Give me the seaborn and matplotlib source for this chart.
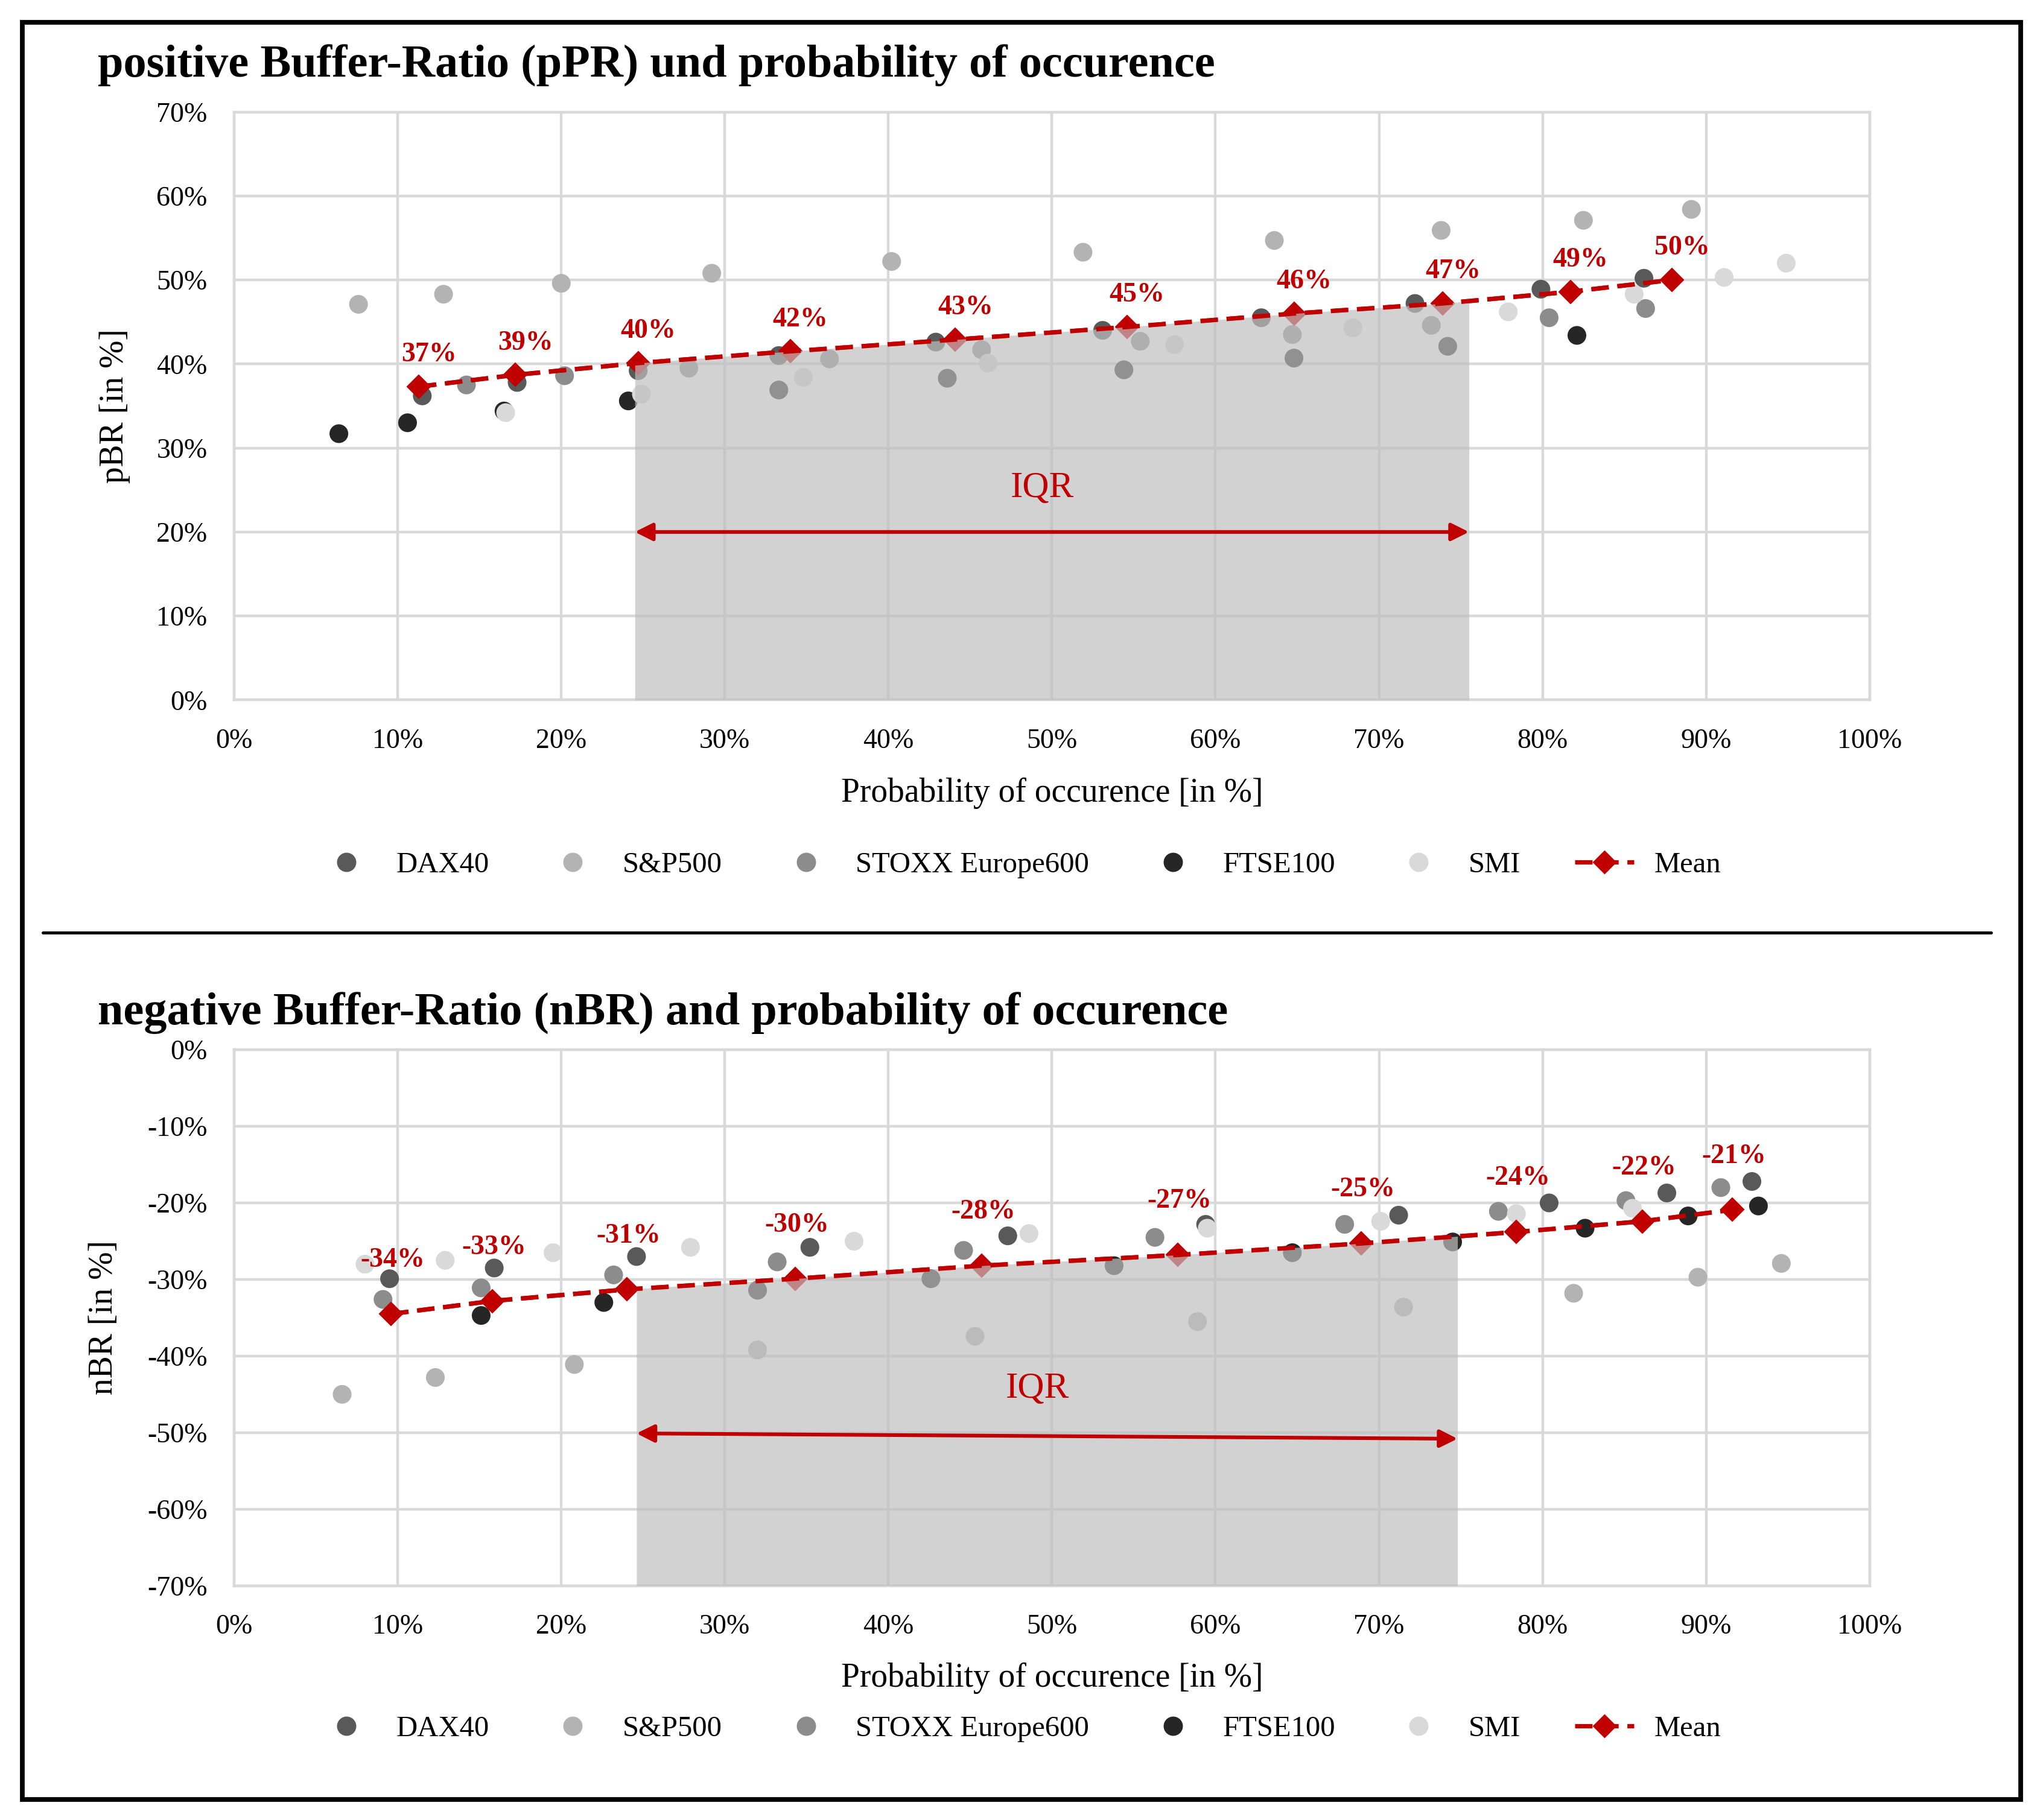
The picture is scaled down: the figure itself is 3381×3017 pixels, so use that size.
import numpy as np
import pandas as pd
import matplotlib
matplotlib.use("Agg")
import matplotlib.pyplot as plt
import seaborn as sns
from matplotlib.lines import Line2D
from matplotlib.patches import Rectangle

# ---- data: positive buffer ratio (pBR) vs probability of occurence, in % ----
indices = ["DAX40", "S&P500", "STOXX Europe600", "FTSE100", "SMI"]
colors = ["#595959", "#b3b3b3", "#8c8c8c", "#262626", "#d9d9d9"]

pos_x_dax = [11.5, 17.3, 24.7, 33.3, 42.9, 53.1, 62.8, 72.2, 79.9, 86.2]
pos_y_dax = [36.2, 37.8, 39.2, 41.0, 42.6, 44.0, 45.5, 47.2, 48.9, 50.2]
pos_x_sp = [7.6, 12.8, 20.0, 29.2, 40.2, 51.9, 63.6, 73.8, 82.5, 89.1]
pos_y_sp = [47.1, 48.3, 49.6, 50.8, 52.2, 53.3, 54.7, 55.9, 57.1, 58.4]
pos_x_stoxx = [14.2, 20.2, 27.8, 36.4, 45.7, 55.4, 64.7, 73.2, 80.4, 86.3]
pos_y_stoxx = [37.5, 38.6, 39.5, 40.6, 41.7, 42.7, 43.5, 44.6, 45.5, 46.6]
pos_x_ftse = [6.4, 10.6, 16.5, 24.1, 33.3, 43.6, 54.4, 64.8, 74.2, 82.1]
pos_y_ftse = [31.7, 33.0, 34.4, 35.6, 36.9, 38.3, 39.3, 40.7, 42.1, 43.4]
pos_x_smi = [16.6, 24.9, 34.8, 46.1, 57.5, 68.4, 77.9, 85.6, 91.1, 94.9]
pos_y_smi = [34.2, 36.4, 38.4, 40.1, 42.3, 44.3, 46.2, 48.3, 50.3, 52.0]

pos_mean_x = [11.3, 17.2, 24.7, 34.0, 44.1, 54.6, 64.8, 73.9, 81.7, 87.9]
pos_mean_y = [37.3, 38.7, 40.1, 41.5, 42.9, 44.4, 46.0, 47.2, 48.6, 50.0]
pos_mean_labels = ["37%", "39%", "40%", "42%", "43%", "45%", "46%", "47%", "49%", "50%"]
pos_iqr = [24.5, 75.5]

# ---- data: negative buffer ratio (nBR) ----
neg_x_dax = [9.5, 15.9, 24.6, 35.2, 47.3, 59.4, 71.2, 80.4, 87.6, 92.8]
neg_y_dax = [-29.9, -28.5, -27.0, -25.8, -24.3, -22.8, -21.6, -20.0, -18.7, -17.2]
neg_x_sp = [6.6, 12.3, 20.8, 32.0, 45.3, 58.9, 71.5, 81.9, 89.5, 94.6]
neg_y_sp = [-45.0, -42.8, -41.1, -39.2, -37.4, -35.5, -33.6, -31.8, -29.7, -27.9]
neg_x_stoxx = [9.1, 15.1, 23.2, 33.2, 44.6, 56.3, 67.9, 77.3, 85.1, 90.9]
neg_y_stoxx = [-32.6, -31.1, -29.4, -27.7, -26.2, -24.5, -22.8, -21.1, -19.7, -18.0]
neg_x_ftse = [15.1, 22.6, 32.0, 42.6, 53.8, 64.7, 74.5, 82.6, 88.9, 93.2]
neg_y_ftse = [-34.7, -33.0, -31.4, -29.9, -28.2, -26.5, -25.1, -23.3, -21.7, -20.4]
neg_x_smi = [8.0, 12.9, 19.5, 27.9, 37.9, 48.6, 59.5, 70.1, 78.4, 85.5]
neg_y_smi = [-28.0, -27.5, -26.5, -25.8, -25.0, -24.0, -23.3, -22.4, -21.4, -20.7]

neg_mean_x = [9.6, 15.8, 24.0, 34.3, 45.7, 57.7, 68.9, 78.4, 86.1, 91.6]
neg_mean_y = [-34.5, -32.8, -31.3, -29.9, -28.2, -26.8, -25.3, -23.8, -22.4, -20.9]
neg_mean_labels = ["-34%", "-33%", "-31%", "-30%", "-28%", "-27%", "-25%", "-24%", "-22%", "-21%"]
neg_iqr = [24.6, 74.8]

RED = "#c00000"


def make_df(xs, ys):
    frames = []
    for name, x, y in zip(indices, xs, ys):
        frames.append(pd.DataFrame({"x": x, "y": y, "index": name}))
    return pd.concat(frames, ignore_index=True)


pos_df = make_df([pos_x_dax, pos_x_sp, pos_x_stoxx, pos_x_ftse, pos_x_smi],
                 [pos_y_dax, pos_y_sp, pos_y_stoxx, pos_y_ftse, pos_y_smi])
neg_df = make_df([neg_x_dax, neg_x_sp, neg_x_stoxx, neg_x_ftse, neg_x_smi],
                 [neg_y_dax, neg_y_sp, neg_y_stoxx, neg_y_ftse, neg_y_smi])

sns.set_theme(style="whitegrid")
plt.rcParams['font.family'] = ['Liberation Serif', 'DejaVu Serif']
plt.rcParams['text.color'] = 'black'
plt.rcParams['axes.labelcolor'] = 'black'

fig = plt.figure(figsize=(3381 / 200, 3017 / 200), dpi=200)
ax1 = fig.add_axes([0.1148, 0.6154, 0.8017, 0.3231])
ax2 = fig.add_axes([0.1148, 0.1287, 0.8017, 0.2945])


def draw_panel(ax, df, mx, my, labels, iqr, ylim, yticks, ylabel, label_dx, label_dy,
               arrow_y, iqr_text_y):
    sns.scatterplot(data=df, x="x", y="y", hue="index", hue_order=indices,
                    palette=dict(zip(indices, colors)), s=125, edgecolor="none",
                    legend=False, ax=ax, zorder=3)
    # mean line with diamonds (below the IQR shading)
    sns.lineplot(x=mx, y=my, ax=ax, color=RED, lw=2.6, marker="D", markersize=9.5,
                 markeredgecolor=RED, zorder=4, sort=False)
    ax.lines[-1].set_dashes((4, 2))
    # IQR shading
    xs = np.linspace(iqr[0], iqr[1], 60)
    top = np.interp(xs, mx, my)
    ax.fill_between(xs, ylim[0], top, color="#bfbfbf", alpha=0.7, lw=0, zorder=5)
    # line again on top of shading
    sns.lineplot(x=mx, y=my, ax=ax, color=RED, lw=2.6, zorder=6, sort=False)
    ax.lines[-1].set_dashes((4, 2))

    for x, y, t in zip(mx, my, labels):
        ax.annotate(t, (x, y), xytext=(label_dx, label_dy), textcoords="offset points",
                    ha="center", va="center", color=RED, fontsize=16.5,
                    fontweight="bold", zorder=7)

    ax.annotate("", xy=(iqr[1], arrow_y[1]), xytext=(iqr[0], arrow_y[0]),
                arrowprops=dict(arrowstyle="<|-|>", color=RED, lw=2.2,
                                mutation_scale=22, shrinkA=0, shrinkB=0), zorder=7)
    ax.text(np.mean(iqr) - 0.6, iqr_text_y, "IQR", color=RED, fontsize=22,
            ha="center", va="center", zorder=7)

    ax.set_xlim(0, 100)
    ax.set_ylim(*ylim)
    ax.set_xticks(np.arange(0, 101, 10))
    ax.set_xticklabels([f"{v}%" for v in range(0, 101, 10)])
    ax.set_yticks(yticks)
    ax.set_yticklabels([f"{v}%" for v in yticks])
    ax.grid(True, color="#d9d9d9", lw=1.6)
    ax.set_axisbelow(True)
    for sp in ax.spines.values():
        sp.set_color("#d9d9d9")
        sp.set_linewidth(1.6)
    ax.tick_params(axis="both", length=0, labelsize=16.5, colors="black")
    ax.tick_params(axis="x", pad=17)
    ax.tick_params(axis="y", pad=16)
    ax.set_xlabel("Probability of occurence [in %]", fontsize=20, color="black")
    ax.set_ylabel(ylabel, fontsize=20, color="black")


draw_panel(ax1, pos_df, pos_mean_x, pos_mean_y, pos_mean_labels, pos_iqr,
           (0, 70), list(range(0, 71, 10)), "pBR [in %]", 6, 19, (20, 20), 25.2)
draw_panel(ax2, neg_df, neg_mean_x, neg_mean_y, neg_mean_labels, neg_iqr,
           (-70, 0), list(range(-70, 1, 10)), "nBR [in %]", 1, 32, (-50.1, -50.8), -44.3)

ax1.xaxis.set_label_coords(0.5, -0.159)
ax1.xaxis.label.set_va("center")
ax2.xaxis.set_label_coords(0.5, -0.172)
ax2.xaxis.label.set_va("center")
ax1.yaxis.set_label_coords(-0.0636, 0.5)
ax2.yaxis.set_label_coords(-0.070, 0.5)

# titles
fig.text(0.0478, 0.964, "positive Buffer-Ratio (pPR) und probability of occurence",
         fontsize=27.5, fontweight="bold", ha="left", va="center", color="black")
fig.text(0.0478, 0.443, "negative Buffer-Ratio (nBR) and probability of occurence",
         fontsize=27.5, fontweight="bold", ha="left", va="center", color="black")

# legends
handles = [Line2D([], [], marker="o", ls="none", color=c, markersize=10.5) for c in colors]
handles.append(Line2D([], [], color=RED, lw=2.6, ls=(0, (4, 2)), marker="D", markersize=9))
names = indices + ["Mean"]
for y in (0.5247, 0.050):
    fig.legend(handles, names, loc="center", bbox_to_anchor=(0.4995, y), ncol=6,
               frameon=False, fontsize=17.5, columnspacing=1.85, handlelength=2.0,
               handletextpad=0.7, labelcolor="black")

# outer frame and separator
fig.add_artist(Rectangle((0.0108, 0.0114), 0.9796, 0.9764, transform=fig.transFigure,
                         fill=False, lw=2.8, ec="black"))
fig.add_artist(Line2D([0.021, 0.976], [0.4875, 0.4875], transform=fig.transFigure,
                      color="black", lw=1.8))

fig.savefig("out.png", dpi=200)
